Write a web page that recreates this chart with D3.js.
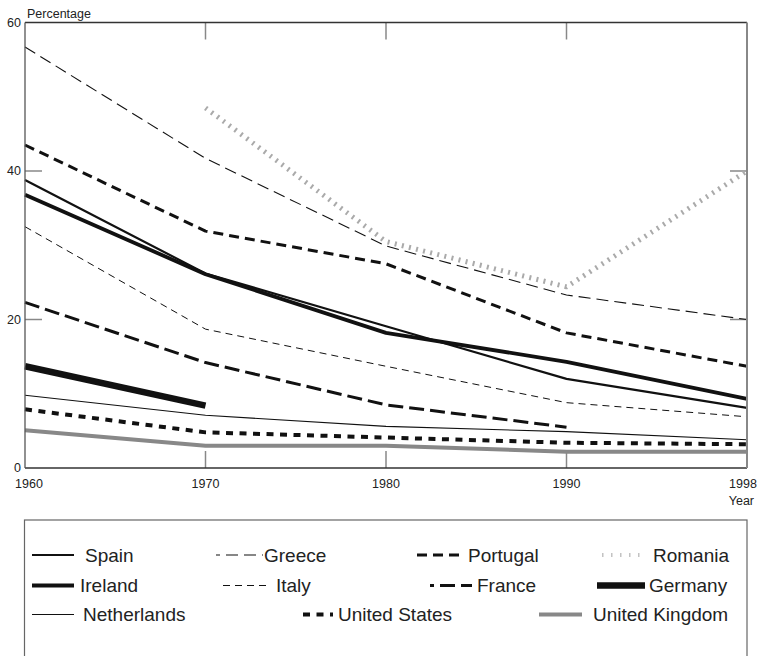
<!DOCTYPE html>
<html><head><meta charset="utf-8">
<script src="https://cdn.jsdelivr.net/npm/d3@7"></script>
<style>
html,body{margin:0;padding:0;background:#fff;}
svg{display:block;font-family:"Liberation Sans",Arial,Helvetica,sans-serif;}
</style></head>
<body><svg id="c" width="760" height="656"></svg>
<script>
// ---- data ----
const years = [1960, 1970, 1980, 1990, 1998];
const yTicks = [0, 20, 40, 60];
const spain = [38.8, 26.2, 19.1, 12.0, 8.1];
const ireland = [36.8, 26.1, 18.2, 14.3, 9.3];
const greece = [56.7, 41.7, 29.9, 23.3, 20.0];
const portugal = [43.5, 31.9, 27.5, 18.2, 13.7];
const romania = [null, 48.5, 30.5, 24.4, 40.0];
const italy = [32.5, 18.7, 13.7, 8.8, 6.9];
const france = [22.3, 14.2, 8.5, 5.5, null];
const germany = [13.7, 8.4, null, null, null];
const netherlands = [9.8, 7.1, 5.6, 4.9, 3.8];
const unitedStates = [7.9, 4.8, 4.1, 3.4, 3.2];
const unitedKingdom = [5.1, 3.0, 3.0, 2.2, 2.2];

// ---- styles ----
const styles = {
  Spain:{c:"#111",w:2.2,d:null},
  Ireland:{c:"#111",w:3.8,d:null},
  Germany:{c:"#111",w:6.5,d:null},
  Netherlands:{c:"#111",w:1.1,d:null},
  "United Kingdom":{c:"#888",w:4,d:null},
  Greece:{c:"#111",w:1.1,d:"12,6"},
  Italy:{c:"#111",w:1,d:"7,5"},
  Portugal:{c:"#111",w:3,d:"10,6"},
  France:{c:"#111",w:3,d:"15,6"},
  "United States":{c:"#111",w:4,d:"7,6.5"},
  Romania:{c:"#aaa",w:5,d:"2,5.3"}
};
const series = [
  {name:"Greece",v:greece},{name:"Romania",v:romania},{name:"Portugal",v:portugal},
  {name:"Italy",v:italy},{name:"France",v:france},{name:"Spain",v:spain},
  {name:"Ireland",v:ireland},{name:"Germany",v:germany},{name:"Netherlands",v:netherlands},
  {name:"United Kingdom",v:unitedKingdom},{name:"United States",v:unitedStates}
];

const svg = d3.select("#c");
const L=25, R=747, T=22.5, B=468;
const x = d3.scalePoint().domain(years).range([L,R]);
const y = d3.scaleLinear().domain([0,60]).range([B,T]);

// inner ticks
const tickC="#888", tl=17;
const innerX = years.slice(1,-1), innerY = yTicks.slice(1,-1);
svg.append("g").selectAll("line").data(innerX).join("line")
  .attr("x1",d=>x(d)).attr("x2",d=>x(d)).attr("y1",T).attr("y2",T+tl).attr("stroke",tickC).attr("stroke-width",1.5);
svg.append("g").selectAll("line").data(innerX).join("line")
  .attr("x1",d=>x(d)).attr("x2",d=>x(d)).attr("y1",B).attr("y2",B-tl).attr("stroke",tickC).attr("stroke-width",1.5);
svg.append("g").selectAll("line").data(innerY).join("line")
  .attr("x1",L).attr("x2",L+tl).attr("y1",d=>y(d)).attr("y2",d=>y(d)).attr("stroke",tickC).attr("stroke-width",1.5);
svg.append("g").selectAll("line").data(innerY).join("line")
  .attr("x1",R).attr("x2",R-tl).attr("y1",d=>y(d)).attr("y2",d=>y(d)).attr("stroke",tickC).attr("stroke-width",1.5);

// lines
const line = d3.line().defined(d=>d.v!=null).x(d=>x(d.y)).y(d=>y(d.v));
svg.append("g").selectAll("path").data(series).join("path")
  .attr("d",s=>line(years.map((yr,i)=>({y:yr,v:s.v[i]}))))
  .attr("fill","none")
  .attr("stroke",s=>styles[s.name].c)
  .attr("stroke-width",s=>styles[s.name].w)
  .attr("stroke-dasharray",s=>styles[s.name].d)
  .attr("stroke-linejoin","round");

// frame
svg.append("line").attr("x1",L).attr("x2",R).attr("y1",T).attr("y2",T).attr("stroke","#333").attr("stroke-width",1.3);
svg.append("line").attr("x1",L).attr("x2",R).attr("y1",B).attr("y2",B).attr("stroke","#333").attr("stroke-width",1.3);
svg.append("line").attr("x1",L).attr("x2",L).attr("y1",T).attr("y2",B).attr("stroke","#555").attr("stroke-width",1.3);
svg.append("line").attr("x1",R).attr("x2",R).attr("y1",T).attr("y2",B).attr("stroke","#888").attr("stroke-width",2);

// tick labels
const tf = "12.5px", tc="#222";
svg.append("g").selectAll("text").data(yTicks).join("text")
  .attr("x",21).attr("y",d=>y(d)).attr("dy","0.35em").attr("text-anchor","end")
  .attr("font-size",tf).attr("fill",tc).text(d=>d);
svg.append("g").selectAll("text").data(years).join("text")
  .attr("x",(d,i)=>x(d)+(i===0?4:(i===years.length-1?-4:0))).attr("y",488)
  .attr("text-anchor","middle").attr("font-size",tf).attr("fill",tc).text(d=>d);
svg.append("text").attr("x",27).attr("y",17.5).attr("font-size",tf).attr("fill",tc).text("Percentage");
svg.append("text").attr("x",754).attr("y",505).attr("text-anchor","end").attr("font-size",tf).attr("fill",tc).text("Year");

// legend
svg.append("rect").attr("x",24.5).attr("y",520).attr("width",722.5).attr("height",160)
  .attr("fill","none").attr("stroke","#666").attr("stroke-width",1.2);
const legendItems = [
  {name:"Spain",x1:32,x2:74,tx:85,row:0,off:0},
  {name:"Greece",x1:216,x2:263,tx:264,row:0,off:8},
  {name:"Portugal",x1:417,x2:464,tx:468,row:0,off:0},
  {name:"Romania",x1:602,x2:647,tx:653,row:0,off:0},
  {name:"Ireland",x1:32,x2:74,tx:80,row:1,off:0},
  {name:"Italy",x1:223,x2:267,tx:276,row:1,off:0},
  {name:"France",x1:430,x2:472,tx:477,row:1,off:11},
  {name:"Germany",x1:597,x2:645,tx:649,row:1,off:0},
  {name:"Netherlands",x1:32,x2:74,tx:83,row:2,off:0},
  {name:"United States",x1:303,x2:333,tx:338,row:2,off:0},
  {name:"United Kingdom",x1:539,x2:582,tx:593,row:2,off:0}
];
const rowY=[555,585.5,614.5];
const lg = svg.append("g").selectAll("g").data(legendItems).join("g");
lg.append("line").attr("x1",d=>d.x1).attr("x2",d=>d.x2).attr("y1",d=>rowY[d.row]).attr("y2",d=>rowY[d.row])
  .attr("stroke",d=>styles[d.name].c)
  .attr("stroke-width",d=>d.name==="Romania"?4:styles[d.name].w)
  .attr("stroke-dasharray",d=>d.name==="Romania"?"1.5,7.5":styles[d.name].d)
  .attr("stroke-dashoffset",d=>d.off)
  .attr("opacity",d=>d.name==="Romania"?0.7:1);
lg.append("text").attr("x",d=>d.tx).attr("y",d=>rowY[d.row]).attr("dy","0.35em")
  .attr("font-size","19px").attr("fill","#222").text(d=>d.name);
</script></body></html>
